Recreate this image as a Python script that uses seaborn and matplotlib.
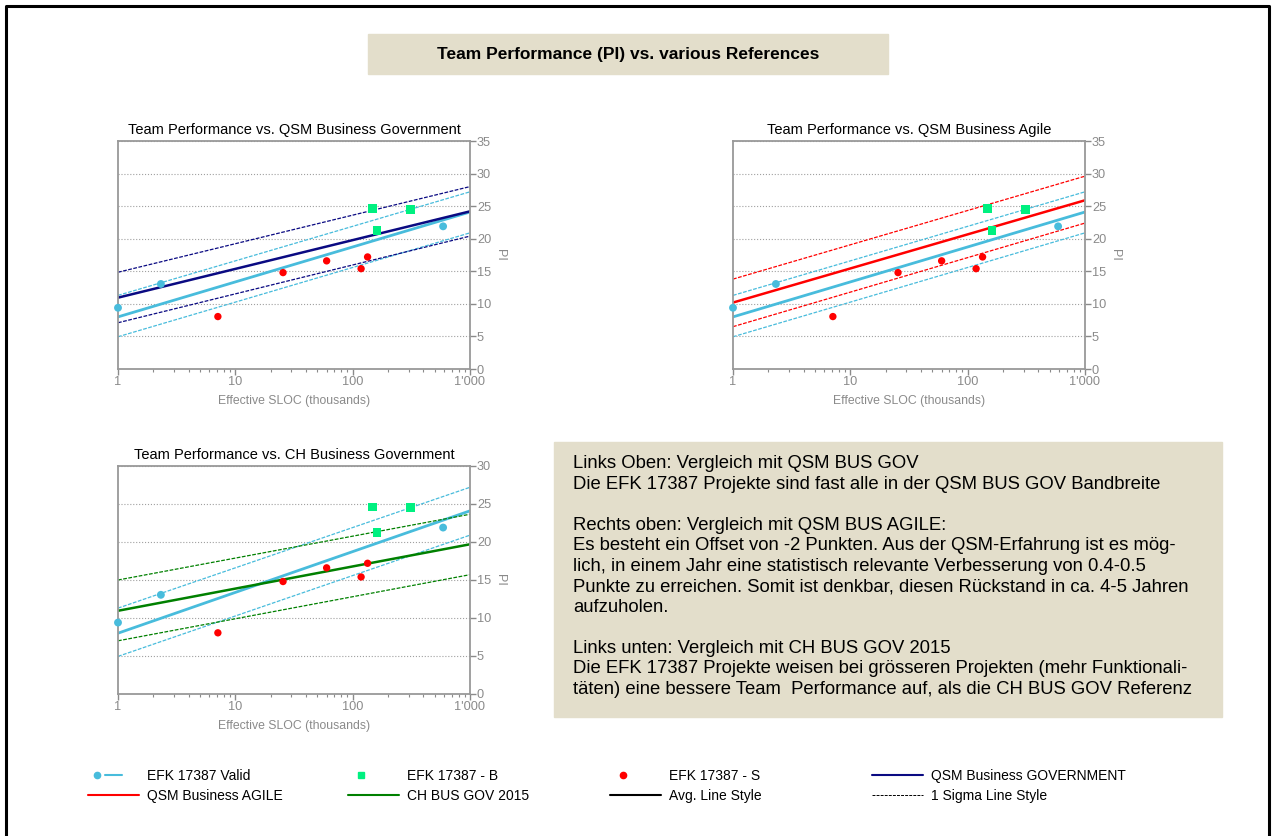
import matplotlib
matplotlib.use("Agg")
import matplotlib.pyplot as plt
import seaborn as sns
import numpy as np
from matplotlib.lines import Line2D
from matplotlib.patches import Rectangle
from matplotlib.legend_handler import HandlerTuple
from matplotlib.ticker import NullFormatter

# EFK 17387 project data (effective SLOC in thousands, PI)
valid_x = [1.0, 2.32, 590]
valid_y = [9.4, 13.05, 21.9]
b_x = [147, 161, 309]
b_y = [24.6, 21.3, 24.5]
s_x = [7.1, 25.5, 60, 118, 134]
s_y = [8.05, 14.8, 16.6, 15.4, 17.2]

# trend lines, values at x = 1 and x = 1000
trend_x = [1, 1000]
valid_avg = [8.0, 24.1]
valid_hi = [11.3, 27.2]
valid_lo = [4.95, 20.9]
gov_avg = [10.95, 24.2]
gov_hi = [14.85, 28.0]
gov_lo = [7.1, 20.4]
agile_avg = [10.2, 25.9]
agile_hi = [13.8, 29.6]
agile_lo = [6.5, 22.4]
ch_avg = [10.95, 19.7]
ch_hi = [15.0, 23.65]
ch_lo = [7.0, 15.7]

x_ticks = [1, 10, 100, 1000]
x_ticklabels = ["1", "10", "100", "1'000"]

sns.set_style("white")
plt.rcParams['font.family'] = ['Liberation Sans', 'DejaVu Sans']
plt.rcParams['text.color'] = 'black'

CYAN = "#48BCDC"
NAVY = "#0A0A82"
RED = "#FF0000"
GREEN = "#008000"
SPRING = "#00F080"
GREY = "#8A8A8A"
BEIGE = "#E3DECB"
SIGMA = (0, (3, 1.2))

W, H = 1275, 836
fig = plt.figure(figsize=(W / 100, H / 100), dpi=100)


def px_axes(left, top, right, bottom):
    return fig.add_axes([left / W, 1 - bottom / H, (right - left) / W, (bottom - top) / H])


def draw_panel(ax, title, ref, ref_color, ymax):
    ref_avg, ref_hi, ref_lo = ref
    for vals, lw, ls in [(valid_hi, 0.9, SIGMA), (valid_lo, 0.9, SIGMA), (valid_avg, 2.0, "-")]:
        sns.lineplot(x=trend_x, y=vals, color=CYAN, lw=lw, ls=ls, ax=ax)
    for vals, lw, ls in [(ref_hi, 0.9, SIGMA), (ref_lo, 0.9, SIGMA), (ref_avg, 1.8, "-")]:
        sns.lineplot(x=trend_x, y=vals, color=ref_color, lw=lw, ls=ls, ax=ax)
    sns.scatterplot(x=valid_x, y=valid_y, color=CYAN, s=32, edgecolor="none",
                    ax=ax, clip_on=False, zorder=5)
    sns.scatterplot(x=b_x, y=b_y, color=SPRING, marker="s", s=40, edgecolor="none",
                    ax=ax, zorder=5)
    sns.scatterplot(x=s_x, y=s_y, color=RED, s=28, edgecolor="none", ax=ax, zorder=5)

    ax.set_xscale("log")
    ax.set_xlim(1, 1000)
    ax.set_ylim(0, ymax)
    ax.set_xticks(x_ticks)
    ax.set_xticklabels(x_ticklabels)
    ax.xaxis.set_minor_formatter(NullFormatter())
    ax.set_yticks(np.arange(0, ymax + 1, 5))
    ax.yaxis.tick_right()
    ax.yaxis.set_label_position("right")
    ax.grid(axis="y", ls=":", color="#A0A0A0", lw=0.8)
    ax.tick_params(axis="both", which="major", colors=GREY, labelsize=9.2,
                   direction="out", length=4, width=1, pad=1)
    ax.tick_params(axis="x", which="minor", colors=GREY, direction="out",
                   length=2.5, width=0.8, bottom=True)
    ax.tick_params(axis="y", left=False, right=True)
    ax.tick_params(axis="x", bottom=True)
    for sp in ax.spines.values():
        sp.set_color("#999999")
        sp.set_linewidth(1.3)
    ax.set_title(title, fontsize=10.5, color="black", pad=5)
    ax.set_xlabel("Effective SLOC (thousands)", fontsize=8.8, color=GREY, labelpad=5)
    ax.set_ylabel("PI", fontsize=9, color=GREY, rotation=270, labelpad=11)


ax1 = px_axes(118, 141, 470, 369)
draw_panel(ax1, "Team Performance vs. QSM Business Government",
           (gov_avg, gov_hi, gov_lo), NAVY, 35)
ax2 = px_axes(733, 141, 1085, 369)
draw_panel(ax2, "Team Performance vs. QSM Business Agile",
           (agile_avg, agile_hi, agile_lo), RED, 35)
ax3 = px_axes(118, 466, 470, 694)
draw_panel(ax3, "Team Performance vs. CH Business Government",
           (ch_avg, ch_hi, ch_lo), GREEN, 30)

# heading box
fig.add_artist(Rectangle((368 / W, 1 - 74 / H), 520 / W, 40 / H,
                         transform=fig.transFigure, color=BEIGE, zorder=0))
fig.text(628 / W, 1 - 55 / H, "Team Performance (PI) vs. various References",
         ha="center", va="center", fontsize=12.5, fontweight="bold", color="black")

# comment box
fig.add_artist(Rectangle((554 / W, 1 - 717 / H), 668 / W, 275 / H,
                         transform=fig.transFigure, color=BEIGE, zorder=0))
comment = ("Links Oben: Vergleich mit QSM BUS GOV\n"
           "Die EFK 17387 Projekte sind fast alle in der QSM BUS GOV Bandbreite\n"
           "\n"
           "Rechts oben: Vergleich mit QSM BUS AGILE:\n"
           "Es besteht ein Offset von -2 Punkten. Aus der QSM-Erfahrung ist es mög-\n"
           "lich, in einem Jahr eine statistisch relevante Verbesserung von 0.4-0.5\n"
           "Punkte zu erreichen. Somit ist denkbar, diesen Rückstand in ca. 4-5 Jahren\n"
           "aufzuholen.\n"
           "\n"
           "Links unten: Vergleich mit CH BUS GOV 2015\n"
           "Die EFK 17387 Projekte weisen bei grösseren Projekten (mehr Funktionali-\n"
           "täten) eine bessere Team  Performance auf, als die CH BUS GOV Referenz")
fig.text(573 / W, 1 - 455 / H, comment, ha="left", va="top", fontsize=13.3,
         linespacing=1.27, color="black")

# outer frame
fig.add_artist(Line2D([6 / W, 6 / W, 1269 / W, 1269 / W], [-0.01, 1 - 6 / H, 1 - 6 / H, -0.01],
                      transform=fig.transFigure, color="black", lw=2.2))

# legend, four columns of two entries
blank = Line2D([], [], color="none")
cols = [
    (88, [((Line2D([], [], marker="o", ms=4.5, color=CYAN, ls="none"),
            Line2D([], [], color=CYAN, lw=1.5), blank), "EFK 17387 Valid"),
          (Line2D([], [], color=RED, lw=1.5), "QSM Business AGILE")]),
    (348, [((Line2D([], [], marker="s", ms=5, color=SPRING, ls="none"), blank), "EFK 17387 - B"),
           (Line2D([], [], color=GREEN, lw=1.5), "CH BUS GOV 2015")]),
    (610, [((Line2D([], [], marker="o", ms=4.5, color=RED, ls="none"), blank), "EFK 17387 - S"),
           (Line2D([], [], color="black", lw=1.5), "Avg. Line Style")]),
    (872, [(Line2D([], [], color=NAVY, lw=1.5), "QSM Business GOVERNMENT"),
           (Line2D([], [], color="black", lw=0.7, ls=SIGMA), "1 Sigma Line Style")]),
]
for x0, entries in cols:
    handles = [h for h, _ in entries]
    labels = [l for _, l in entries]
    leg = fig.legend(handles, labels, loc="upper left", bbox_to_anchor=(x0 / W, 1 - 769 / H),
                     frameon=False, fontsize=10, handlelength=3.7, handletextpad=0.55,
                     labelspacing=0.42, borderpad=0, borderaxespad=0,
                     handler_map={tuple: HandlerTuple(ndivide=None, pad=0)})
    for t in leg.get_texts():
        t.set_color("black")

fig.savefig("out.png", dpi=100, facecolor="white")
